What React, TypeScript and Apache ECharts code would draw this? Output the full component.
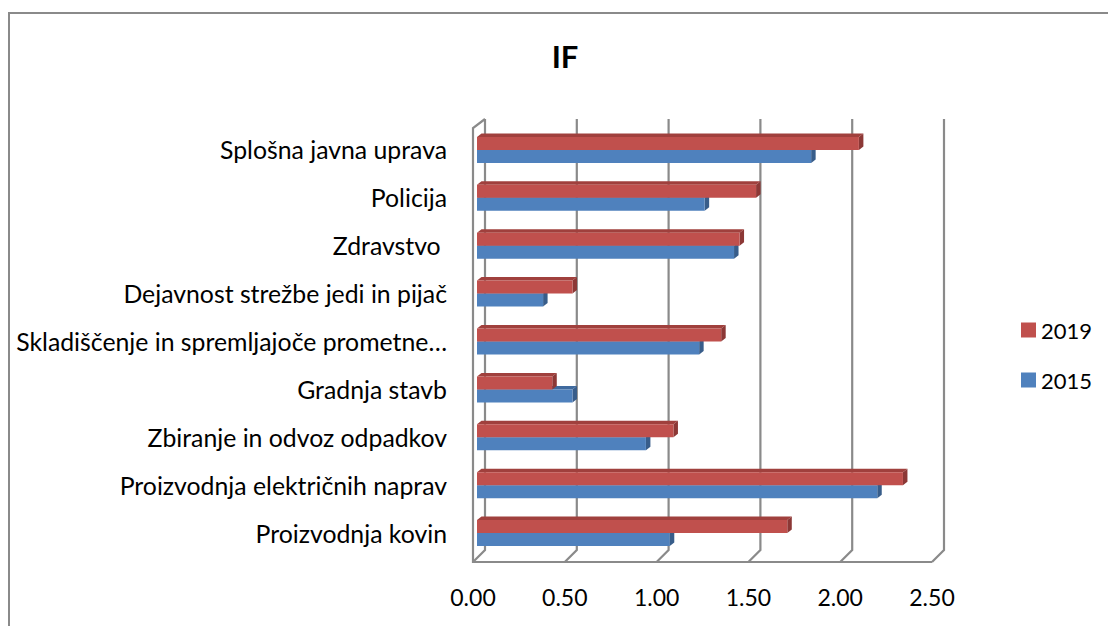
import React, { useEffect, useRef } from "react";
import * as echarts from "echarts";

const categories = [
  "Proizvodnja kovin",
  "Proizvodnja električnih naprav",
  "Zbiranje in odvoz odpadkov",
  "Gradnja stavb",
  "Skladiščenje in spremljajoče prometne…",
  "Dejavnost strežbe jedi in pijač",
  "Zdravstvo ",
  "Policija",
  "Splošna javna uprava",
];
const values2015 = [1.05, 2.18, 0.92, 0.52, 1.21, 0.36, 1.4, 1.24, 1.82];
const values2019 = [1.69, 2.32, 1.07, 0.41, 1.33, 0.52, 1.43, 1.52, 2.08];
const xTicks = [0, 0.5, 1, 1.5, 2, 2.5];
const seriesNames = ["2019", "2015"];
const titleText = "IF";

const FONT = "Lato, 'Liberation Sans', sans-serif";
const GRID_COLOR = "#8A8A8A";

const BAR_H = 13;
const DX = 4.5;
const DY = 3.5;

function makeBarRender(upper: boolean, front: string, top: string, side: string) {
  return (params: any, api: any) => {
    const v = api.value(0);
    const cat = api.value(1);
    const p0 = api.coord([0, cat]);
    const p1 = api.coord([v, cat]);
    const yc = p0[1];
    const yTop = upper ? yc - BAR_H : yc;
    const yBot = upper ? yc : yc + BAR_H;
    const x0 = p0[0];
    const x1 = p1[0];
    return {
      type: "group",
      children: [
        {
          type: "polygon",
          shape: { points: [[x0, yTop], [x1, yTop], [x1 + DX, yTop - DY], [x0 + DX, yTop - DY]] },
          style: { fill: top },
        },
        {
          type: "polygon",
          shape: { points: [[x1, yTop], [x1 + DX, yTop - DY], [x1 + DX, yBot - DY], [x1, yBot]] },
          style: { fill: side },
        },
        {
          type: "rect",
          shape: { x: x0, y: yTop, width: x1 - x0, height: yBot - yTop },
          style: { fill: front },
        },
      ],
    };
  };
}

function frameRender(params: any, api: any) {
  const v = api.value(0);
  const cs = params.coordSys;
  const top = cs.y;
  const bottom = cs.y + cs.height;
  const x = api.coord([v, 0])[0];
  const st = { stroke: GRID_COLOR, lineWidth: 2.2, fill: "none" };
  const children: any[] = [
    {
      type: "polyline",
      shape: { points: [[x + 8, top - 7], [x + 8, bottom - 7], [x - 4, bottom + 5]] },
      style: st,
    },
  ];
  if (v === 0) {
    const xEnd = api.coord([xTicks[xTicks.length - 1], 0])[0];
    children.push({
      type: "polyline",
      shape: { points: [[x + 8, top - 7], [x - 4, top + 2], [x - 4, bottom + 5], [xEnd - 4, bottom + 5]] },
      style: st,
    });
  }
  return { type: "group", children };
}

export default function App() {
  const ref = useRef<HTMLDivElement>(null);
  useEffect(() => {
    if (!ref.current) return;
    const chart = echarts.init(ref.current, undefined, { renderer: "svg" });
    chart.setOption({
      animation: false,
      backgroundColor: "#ffffff",
      textStyle: { fontFamily: FONT },
      grid: { left: 477, top: 126, width: 459, height: 431, containLabel: false },
      xAxis: {
        type: "value",
        min: 0,
        max: 2.5,
        interval: 0.5,
        axisLine: { show: false },
        axisTick: { show: false },
        splitLine: { show: false },
        axisLabel: {
          formatter: (v: number) => v.toFixed(2),
          fontSize: 23,
          color: "#000",
          fontFamily: FONT,
          margin: 28,
          padding: [0, 8, 0, 0],
        },
      },
      yAxis: {
        type: "category",
        data: categories,
        axisLine: { show: false },
        axisTick: { show: false },
        splitLine: { show: false },
        axisLabel: {
          fontSize: 24.8,
          color: "#000",
          fontFamily: FONT,
          margin: 30,
          padding: [8, 0, 0, 0],
        },
      },
      legend: {
        orient: "vertical",
        left: 1016,
        top: 314,
        icon: "rect",
        itemWidth: 15,
        itemHeight: 15,
        itemGap: 28,
        data: seriesNames,
        textStyle: { fontSize: 22, color: "#000", fontFamily: FONT, lineHeight: 22 },
      },
      graphic: [
        {
          type: "rect",
          shape: { x: 9, y: 13, width: 1300, height: 800 },
          style: { fill: "none", stroke: GRID_COLOR, lineWidth: 2 },
          silent: true,
        },
        {
          type: "text",
          x: 565,
          y: 56,
          style: {
            text: titleText,
            fontSize: 31,
            fontWeight: "bold",
            fontFamily: FONT,
            fill: "#000",
            align: "center",
            verticalAlign: "middle",
          },
        },
      ],
      series: [
        {
          type: "custom",
          name: "frame",
          z: 1,
          silent: true,
          renderItem: frameRender,
          data: xTicks.map((t) => [t, 0]),
          encode: { x: 0, y: 1 },
        },
        {
          type: "custom",
          name: "2015",
          z: 2,
          itemStyle: { color: "#4F81BD" },
          renderItem: makeBarRender(false, "#4F81BD", "#3F6A9E", "#385D8A"),
          data: values2015.map((v, i) => [v, i]),
          encode: { x: 0, y: 1 },
        },
        {
          type: "custom",
          name: "2019",
          z: 3,
          itemStyle: { color: "#C0504D" },
          renderItem: makeBarRender(true, "#C0504D", "#A0403D", "#8C3836"),
          data: values2019.map((v, i) => [v, i]),
          encode: { x: 0, y: 1 },
        },
      ],
    });
    return () => chart.dispose();
  }, []);
  return (
    <div
      ref={ref}
      style={{ position: "absolute", left: 0, top: 0, width: 1108, height: 626 }}
    />
  );
}
